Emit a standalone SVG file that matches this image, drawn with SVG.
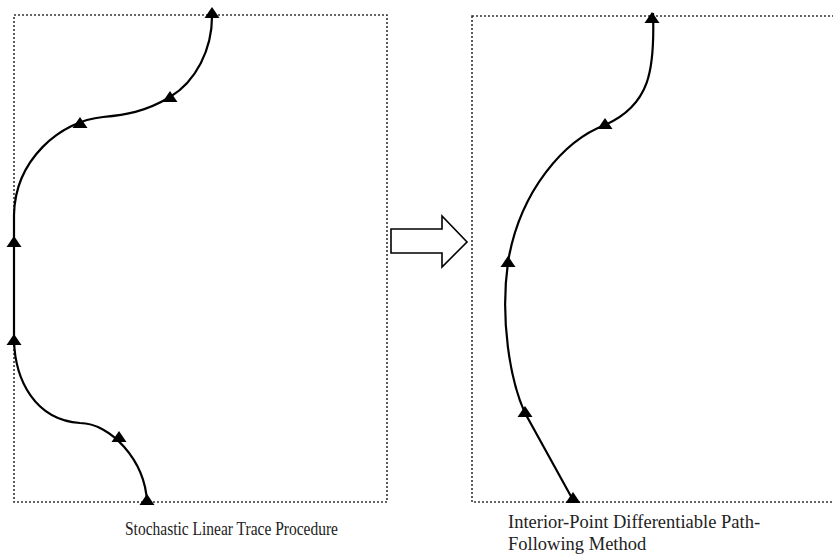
<svg xmlns="http://www.w3.org/2000/svg" xmlns:xlink="http://www.w3.org/1999/xlink" width="833" height="558" viewBox="0 0 833 558">
<style>
.frame{fill:none;stroke:#333;stroke-width:1.6;stroke-dasharray:2 2}
.curve{fill:none;stroke:#000;stroke-width:2.2}
.tri{fill:#000}
.lbl{font-family:"Liberation Serif","Times New Roman",serif;fill:#222}
</style>
<defs>
<path id="tri" d="M0,-6 L7.5,5 L-7.5,5 Z"/>
</defs>
<rect width="833" height="558" fill="#fff"/>
<g id="left-panel">
<rect class="frame" x="14" y="15" width="373" height="487"/>
</g>
<g id="right-panel">
<rect class="frame" x="472" y="16" width="365" height="486"/>
</g>
<g id="block-arrow">
<polygon points="391,229 442,229 442,216 467,242 442,267 442,253 391,253" fill="#fff" stroke="#000" stroke-width="1.6"/>
</g>
<g id="connectors">
<path class="curve" d="M212,13 C213,50 195,82 170,97 C145,112 125,115 103,117 C60,121 15,160 14,215 L14,340 C15,380 35,420 80,423 C110,423 145,460 147,502"/>
<path class="curve" d="M653,13 C655,70 650,105 605,125 C565,140 520,190 508,262 C500,320 510,380 525,413 L573,500"/>
</g>
<g id="markers" class="tri">
<use xlink:href="#tri" x="212" y="13"/>
<use xlink:href="#tri" x="170" y="97"/>
<use xlink:href="#tri" x="80" y="123"/>
<use xlink:href="#tri" x="14" y="242"/>
<use xlink:href="#tri" x="14" y="340"/>
<use xlink:href="#tri" x="119" y="437"/>
<use xlink:href="#tri" x="147" y="500"/>
<use xlink:href="#tri" x="652" y="18"/>
<use xlink:href="#tri" x="605" y="124"/>
<use xlink:href="#tri" x="508" y="262"/>
<use xlink:href="#tri" x="525" y="412"/>
<use xlink:href="#tri" x="573" y="498"/>
</g>
<g id="label-left">
<text class="lbl" x="125" y="535" font-size="18.5" textLength="213" lengthAdjust="spacingAndGlyphs">Stochastic Linear Trace Procedure</text>
</g>
<g id="label-right">
<text class="lbl" x="508" y="528" font-size="18.5">Interior-Point Differentiable Path-</text>
<text class="lbl" x="508" y="550" font-size="18.5">Following Method</text>
</g>
</svg>
